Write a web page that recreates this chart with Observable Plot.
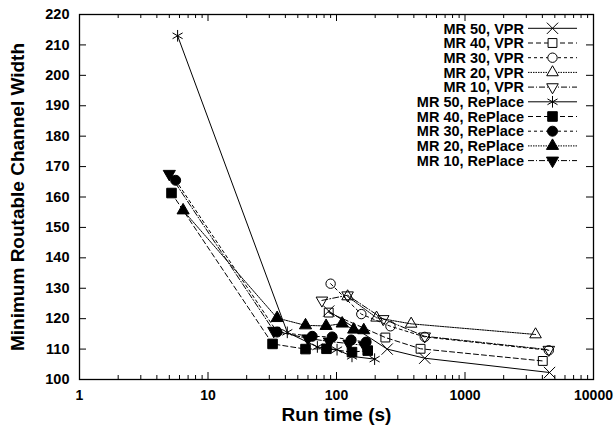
<!DOCTYPE html>
<html><head><meta charset="utf-8">
<script src="https://cdn.jsdelivr.net/npm/d3@7"></script>
<script src="https://cdn.jsdelivr.net/npm/@observablehq/plot@0.6"></script>
<style>body{margin:0;background:#fff;font-family:"Liberation Sans",Arial,sans-serif;}</style>
</head><body><div id="chart"></div>
<script>
// ---- data ----
const seriesNames = ["MR 50, VPR","MR 40, VPR","MR 30, VPR","MR 20, VPR","MR 10, VPR",
  "MR 50, RePlace","MR 40, RePlace","MR 30, RePlace","MR 20, RePlace","MR 10, RePlace"];

const mr50VprTime = [87, 248, 486, 4550];
const mr50VprWidth = [122.5, 110, 107, 102.3];
const mr40VprTime = [87, 240, 451, 4030];
const mr40VprWidth = [122, 113.8, 110.1, 106.1];
const mr30VprTime = [90, 156, 263, 486, 4490];
const mr30VprWidth = [131.5, 121.5, 117.5, 114, 109.6];
const mr20VprTime = [122, 205, 381, 3540];
const mr20VprWidth = [127.3, 120.3, 118.3, 114.8];
const mr10VprTime = [77, 122, 231, 486, 4490];
const mr10VprWidth = [126, 127.7, 119.9, 114.2, 109.8];

const mr50RpTime = [5.8, 41.4, 71, 101, 132, 198];
const mr50RpWidth = [213, 115.5, 110.7, 109.8, 107.6, 106.7];
const mr40RpTime = [5.2, 31.8, 57.4, 83.6, 132, 175];
const mr40RpWidth = [161.3, 111.7, 110, 110.1, 109, 109.5];
const mr30RpTime = [5.6, 34.5, 64.7, 92.5, 130, 170];
const mr30RpWidth = [165.5, 115.6, 114.2, 114, 113, 112.3];
const mr20RpTime = [6.4, 34.5, 57.4, 83, 110.7, 136, 163];
const mr20RpWidth = [155.6, 120.2, 117.8, 117.6, 118.4, 116.4, 116.2];
const mr10RpTime = [5.0, 32.5, 60, 88, 125, 165];
const mr10RpWidth = [167.6, 116, 113.5, 112.5, 111.8, 111.2];

const xTickValues = [1, 10, 100, 1000, 10000];
const yTickValues = [100,110,120,130,140,150,160,170,180,190,200,210,220];

// ---- styles ----
const downTriangle = {
  draw(context, size) {
    const y = -Math.sqrt(size / (Math.sqrt(3) * 3));
    context.moveTo(0, -y * 2);
    context.lineTo(-Math.sqrt(3) * y, y);
    context.lineTo(Math.sqrt(3) * y, y);
    context.closePath();
  }
};
const dashes = {"50": null, "40": "5,3", "30": "3,3", "20": "1.5,1", "10": "6,2,1,2"};
const seriesDefs = [
  {name: seriesNames[0], t: mr50VprTime, w: mr50VprWidth, mr: "50", sym: d3.symbolTimes, fill: "none", r: 5.2},
  {name: seriesNames[1], t: mr40VprTime, w: mr40VprWidth, mr: "40", sym: d3.symbolSquare, fill: "none", r: 5},
  {name: seriesNames[2], t: mr30VprTime, w: mr30VprWidth, mr: "30", sym: d3.symbolCircle, fill: "none", r: 4.7},
  {name: seriesNames[3], t: mr20VprTime, w: mr20VprWidth, mr: "20", sym: d3.symbolTriangle, fill: "none", r: 4.3},
  {name: seriesNames[4], t: mr10VprTime, w: mr10VprWidth, mr: "10", sym: downTriangle, fill: "none", r: 4.3},
  {name: seriesNames[5], t: mr50RpTime, w: mr50RpWidth, mr: "50", sym: d3.symbolAsterisk, fill: "none", r: 5.5},
  {name: seriesNames[6], t: mr40RpTime, w: mr40RpWidth, mr: "40", sym: d3.symbolSquare, fill: "black", r: 5.4},
  {name: seriesNames[7], t: mr30RpTime, w: mr30RpWidth, mr: "30", sym: d3.symbolCircle, fill: "black", r: 5},
  {name: seriesNames[8], t: mr20RpTime, w: mr20RpWidth, mr: "20", sym: d3.symbolTriangle, fill: "black", r: 4.5},
  {name: seriesNames[9], t: mr10RpTime, w: mr10RpWidth, mr: "10", sym: downTriangle, fill: "black", r: 4.5}
];
seriesDefs.forEach(s => s.data = s.t.map((t, i) => ({time: t, width: s.w[i], series: s.name})));

const W = 616, H = 430;
const mL = 79, mR = 23, mT = 14, mB = 51;
const fw = W - mL - mR, fh = H - mT - mB;

const minorX = [];
for (let e = 0; e < 4; e++) for (let k = 2; k <= 9; k++) minorX.push(k * 10 ** e);

const marks = [];
seriesDefs.forEach(s => {
  marks.push(Plot.line(s.data, {x: "time", y: "width", stroke: "black", strokeWidth: 1,
    strokeDasharray: dashes[s.mr]}));
});
seriesDefs.forEach(s => {
  marks.push(Plot.dot(s.data, {x: "time", y: "width", symbol: () => s.sym, r: s.r,
    fill: s.fill, stroke: "black", strokeWidth: 1}));
});

const plot = Plot.plot({
  width: W, height: H,
  marginLeft: mL, marginRight: mR, marginTop: mT, marginBottom: mB,
  style: {fontFamily: "'Liberation Sans', Arial, sans-serif", background: "white", color: "black"},
  x: {type: "log", domain: [1, 10000]},
  y: {domain: [100, 220]},
  symbol: {type: "identity"},
  marks: [
    Plot.frame({stroke: "black", strokeWidth: 1.3}),
    // inward ticks, all four sides
    Plot.tickX(xTickValues, {x: d => d, insetTop: fh - 7, stroke: "black"}),
    Plot.tickX(xTickValues, {x: d => d, insetBottom: fh - 7, stroke: "black"}),
    Plot.tickX(minorX, {x: d => d, insetTop: fh - 4, stroke: "black"}),
    Plot.tickX(minorX, {x: d => d, insetBottom: fh - 4, stroke: "black"}),
    Plot.tickY(yTickValues, {y: d => d, insetRight: fw - 7, stroke: "black"}),
    Plot.tickY(yTickValues, {y: d => d, insetLeft: fw - 7, stroke: "black"}),
    Plot.axisX({ticks: xTickValues, tickFormat: d => String(d), tickSize: 0, tickPadding: 11,
      fontSize: 14, fontWeight: "bold", label: null}),
    Plot.axisY({ticks: yTickValues, tickFormat: d => String(d), tickSize: 0, tickPadding: 10,
      fontSize: 14.5, fontWeight: "bold", label: null}),
    Plot.text(["Run time (s)"], {frameAnchor: "bottom", dy: 35, text: d => d, fontSize: 19,
      fontWeight: "bold", lineAnchor: "middle", textAnchor: "middle"}),
    Plot.text(["Minimum Routable Channel Width"], {frameAnchor: "left", dx: -62, rotate: -90,
      text: d => d, fontSize: 19, fontWeight: "bold", lineAnchor: "middle", textAnchor: "middle"}),
    ...marks
  ]
});

// ---- legend (inside the frame, top right) ----
const svg = d3.select(plot);
const lg = svg.append("g");
const rowY0 = 28.3, rowStep = 14.7;
const textRight = 524, lineX1 = 528, lineX2 = 577, symX = 552.5;
seriesDefs.forEach((s, i) => {
  const y = rowY0 + i * rowStep;
  lg.append("text").attr("x", textRight).attr("y", y).attr("dy", "0.36em")
    .attr("text-anchor", "end").attr("font-size", 14.5).attr("font-weight", "bold")
    .attr("font-family", "'Liberation Sans', Arial, sans-serif").attr("fill", "black")
    .text(s.name);
  lg.append("line").attr("x1", lineX1).attr("x2", lineX2).attr("y1", y).attr("y2", y)
    .attr("stroke", "black").attr("stroke-width", 1)
    .attr("stroke-dasharray", dashes[s.mr]);
  lg.append("path").attr("transform", `translate(${symX},${y})`)
    .attr("d", d3.symbol(s.sym, s.r * s.r * Math.PI)())
    .attr("fill", s.fill === "none" ? "white" : "black").attr("stroke", "black");
});

document.getElementById("chart").appendChild(plot);
</script>
</body></html>
